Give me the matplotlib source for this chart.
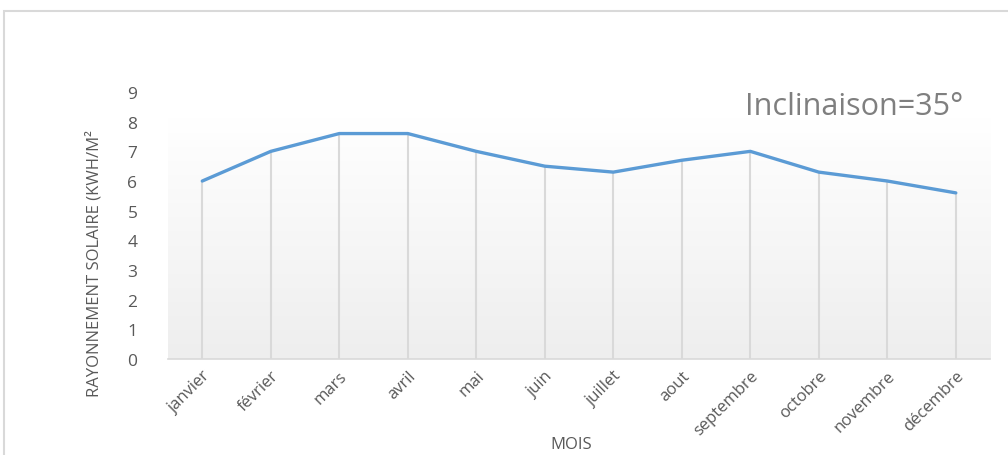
import numpy as np
import matplotlib.pyplot as plt
from matplotlib.patches import Rectangle
from matplotlib.colors import LinearSegmentedColormap

mois = ['janvier', 'février', 'mars', 'avril', 'mai', 'juin', 'juillet',
        'aout', 'septembre', 'octobre', 'novembre', 'décembre']
rayonnement = [6.0, 7.0, 7.6, 7.6, 7.0, 6.5, 6.3, 6.7, 7.0, 6.3, 6.0, 5.6]
y_ticks = [0, 1, 2, 3, 4, 5, 6, 7, 8, 9]

plt.rcParams['font.family'] = ['Open Sans', 'DejaVu Sans']
gris = '#595959'

fig = plt.figure(figsize=(10.08, 4.56), dpi=100)
ax = fig.add_axes([0.1667, 0.2105, 0.8155, 0.5855])

x = np.arange(len(mois))
ax.set_xlim(-0.5, len(mois) - 0.5)
ax.set_ylim(0, 9)

# fond dégradé blanc (haut) -> gris clair (bas)
cmap = LinearSegmentedColormap.from_list('fond', ['#ffffff', '#eeeeee'])
grad = np.linspace(0, 1, 256).reshape(-1, 1)
ax.imshow(grad, cmap=cmap, aspect='auto', origin='upper',
          extent=(-0.5, len(mois) - 0.5, 0, 8.1), zorder=0,
          interpolation='bicubic')

# lignes de projection
ax.vlines(x, 0, rayonnement, color='#d9d9d9', linewidth=1.5, zorder=1)
ax.plot(x, rayonnement, color='#5B9BD5', linewidth=2.4, zorder=3,
        solid_capstyle='round')

for s in ['top', 'right', 'left']:
    ax.spines[s].set_visible(False)
ax.spines['bottom'].set_color('#d9d9d9')
ax.spines['bottom'].set_linewidth(1.2)

ax.set_xticks(x)
ax.set_xticklabels(mois, rotation=45, ha='right', rotation_mode='anchor',
                   fontsize=12, color=gris)
ax.set_yticks(y_ticks)
ax.set_yticklabels([str(v) for v in y_ticks], fontsize=12.5, color=gris)
ax.tick_params(axis='both', length=0)
ax.tick_params(axis='y', pad=22)
ax.tick_params(axis='x', pad=6)

ax.set_ylabel('RAYONNEMENT SOLAIRE (KWH/M²', fontsize=12, color=gris)
ax.yaxis.set_label_coords(-0.08, 0.36)
ax.set_xlabel('MOIS', fontsize=12, color=gris)
ax.xaxis.set_label_coords(0.49, -0.29)

fig.text(0.847, 0.765, 'Inclinaison=35°', fontsize=22, color='#7f7f7f',
         ha='center', va='center')

# cadre du graphique
fig.patches.append(Rectangle((0.004, -0.1), 1.1, 1.074,
                             transform=fig.transFigure, fill=False,
                             edgecolor='#d9d9d9', linewidth=1.5))

fig.savefig('out.png', dpi=100)
